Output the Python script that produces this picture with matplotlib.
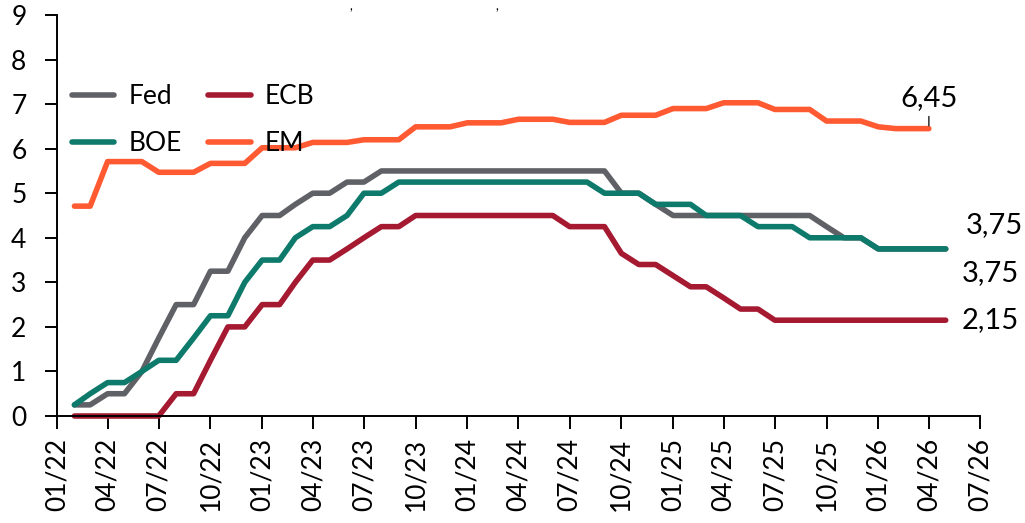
import pandas as pd
import matplotlib
matplotlib.use("Agg")
import matplotlib.pyplot as plt
import matplotlib.dates as mdates

plt.rcParams['font.family'] = ['Lato', 'DejaVu Sans']

# monthly policy rates, first of month from Feb 2022
dates = pd.date_range("2022-02-01", periods=52, freq="MS")

fed = [0.25, 0.25, 0.5, 0.5, 1.0, 1.75, 2.5, 2.5, 3.25, 3.25, 4.0, 4.5, 4.5,
       4.75, 5.0, 5.0, 5.25, 5.25,
       5.5, 5.5, 5.5, 5.5, 5.5, 5.5, 5.5, 5.5, 5.5, 5.5, 5.5, 5.5, 5.5, 5.5,
       5.0, 5.0, 4.75,
       4.5, 4.5, 4.5, 4.5, 4.5, 4.5, 4.5, 4.5, 4.5,
       4.25, 4.0, 4.0,
       3.75, 3.75, 3.75, 3.75, 3.75]

ecb = [0, 0, 0, 0, 0, 0, 0.5, 0.5, 1.25, 2.0, 2.0, 2.5, 2.5, 3.0, 3.5, 3.5,
       3.75, 4.0, 4.25, 4.25,
       4.5, 4.5, 4.5, 4.5, 4.5, 4.5, 4.5, 4.5, 4.5,
       4.25, 4.25, 4.25,
       3.65, 3.4, 3.4, 3.15, 2.9, 2.9, 2.65, 2.4, 2.4,
       2.15, 2.15, 2.15, 2.15, 2.15, 2.15, 2.15, 2.15, 2.15, 2.15, 2.15]

boe = [0.25, 0.5, 0.75, 0.75, 1.0, 1.25, 1.25, 1.75, 2.25, 2.25, 3.0, 3.5,
       3.5, 4.0, 4.25, 4.25, 4.5, 5.0, 5.0,
       5.25, 5.25, 5.25, 5.25, 5.25, 5.25, 5.25, 5.25, 5.25, 5.25, 5.25, 5.25,
       5.0, 5.0, 5.0, 4.75, 4.75, 4.75, 4.5, 4.5, 4.5, 4.25, 4.25, 4.25,
       4.0, 4.0, 4.0, 4.0,
       3.75, 3.75, 3.75, 3.75, 3.75]

# EM ends one month earlier
em = [4.71, 4.71, 5.71, 5.71, 5.71, 5.47, 5.47, 5.47, 5.67, 5.67, 5.67,
      6.02, 6.02, 6.02, 6.14, 6.14, 6.14, 6.2, 6.2, 6.2, 6.49, 6.49, 6.49,
      6.58, 6.58, 6.58, 6.66, 6.66, 6.66, 6.59, 6.59, 6.59, 6.75, 6.75, 6.75,
      6.9, 6.9, 6.9, 7.03, 7.03, 7.03, 6.88, 6.88, 6.88, 6.62, 6.62, 6.62,
      6.49, 6.45, 6.45, 6.45]

names = ["Fed", "ECB", "BOE", "EM"]
colors = ["#606166", "#a51931", "#0e7a6b", "#ff5a32"]

fig = plt.figure(figsize=(10.25, 5.23), dpi=100)
ax = fig.add_axes([57 / 1025, 1 - 416 / 523, (980 - 57) / 1025, (416 - 15) / 523])

lines = {}
for name, vals, c in zip(names, [fed, ecb, boe, em], colors):
    ln, = ax.plot(dates[:len(vals)], vals, color=c, lw=4.0, label=name,
                  solid_capstyle="round", solid_joinstyle="round", clip_on=False)
    lines[name] = ln

ax.set_xlim(pd.Timestamp("2022-01-01"), pd.Timestamp("2026-07-01"))
ax.set_ylim(0, 9)
ax.set_yticks(range(10))
ax.set_xticks(pd.date_range("2022-01-01", "2026-07-01", freq="3MS"))
ax.xaxis.set_major_formatter(mdates.DateFormatter("%m/%y"))
plt.setp(ax.get_xticklabels(), rotation=90, ha="center")

for s in ["top", "right"]:
    ax.spines[s].set_visible(False)
for s in ["left", "bottom"]:
    ax.spines[s].set_linewidth(1.4)
    ax.spines[s].set_color("black")
ax.tick_params(axis="y", direction="out", length=9, width=1.4, pad=13, labelsize=19)
ax.tick_params(axis="x", direction="out", length=9, width=1.4, pad=7, labelsize=19)

# legend in rows Fed/ECB, BOE/EM
order = ["Fed", "BOE", "ECB", "EM"]
ax.legend([lines[n] for n in order], order, ncol=2, frameon=False,
          loc="upper left", bbox_to_anchor=(72 / 1025, 1 - 84 / 523),
          bbox_transform=fig.transFigure, borderpad=0, borderaxespad=0,
          fontsize=19, handlelength=1.6, handletextpad=0.55,
          columnspacing=1.0, labelspacing=0.85)

# end labels
d_end = dates[len(fed) - 1]
ax.annotate("3,75", xy=(d_end, fed[-1]), xytext=(20, 24), textcoords="offset pixels",
            ha="left", va="center", fontsize=21)
ax.annotate("3,75", xy=(d_end, boe[-1]), xytext=(16, -24), textcoords="offset pixels",
            ha="left", va="center", fontsize=21)
ax.annotate("2,15", xy=(d_end, ecb[-1]), xytext=(16, 0), textcoords="offset pixels",
            ha="left", va="center", fontsize=21)
d_em = dates[len(em) - 1]
ax.annotate("", xy=(d_em, em[-1]), xytext=(0, 12), textcoords="offset pixels",
            arrowprops=dict(arrowstyle="-", color="#404040", lw=1.2, shrinkA=0, shrinkB=2))
ax.annotate("6,45", xy=(d_em, em[-1]), xytext=(0, 18), textcoords="offset pixels",
            ha="center", va="bottom", fontsize=21)

# remnants of the cut-off heading at the top edge
fig.text(351 / 1025, 0.999, ",", fontsize=9, va="top", ha="center")
fig.text(497 / 1025, 0.999, ",", fontsize=9, va="top", ha="center")

fig.savefig("out.png", dpi=100)
